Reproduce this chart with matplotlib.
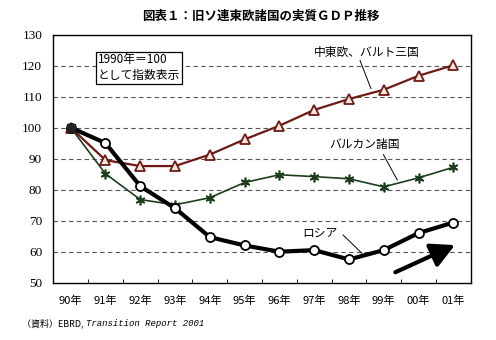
import matplotlib.pyplot as plt
from matplotlib.patches import FancyArrowPatch

plt.rcParams['font.family'] = ['Noto Sans CJK JP', 'DejaVu Sans']

years = ['90年', '91年', '92年', '93年', '94年', '95年', '96年', '97年', '98年', '99年', '00年', '01年']
cee_baltic = [100, 89.5, 87.6, 87.6, 91.3, 96.2, 100.6, 105.7, 109.2, 112.2, 116.7, 120.1]
balkans = [100, 85.1, 76.8, 75.1, 77.4, 82.3, 84.8, 84.2, 83.5, 80.9, 83.8, 87.2]
russia = [100, 95.0, 81.1, 74.0, 64.7, 62.0, 60.0, 60.5, 57.5, 60.5, 66.0, 69.4]
y_ticks = [50, 60, 70, 80, 90, 100, 110, 120, 130]

x = list(range(len(years)))

fig = plt.figure(figsize=(4.96, 3.40), dpi=100)
ax = fig.add_axes([0.1075, 0.1685, 0.8415, 0.730])

for v in y_ticks[1:-1]:
    ax.axhline(v, color='#555555', lw=0.8, ls=(0, (4, 3)), zorder=1)

ax.plot(x, balkans, color='#1c3d1c', lw=1.2, marker=(6, 2, 0), ms=7,
        mec='#1c3d1c', mew=1.2, zorder=3)
ax.plot(x, cee_baltic, color='#6e1a14', lw=1.6, marker='^', ms=6.5,
        mfc='#f4e6dc', mec='#6e1a14', mew=1.3, zorder=4)
ax.plot(x, russia, color='black', lw=3.0, marker='o', ms=6.5,
        mfc='white', mec='black', mew=1.3, zorder=5)
# base year point (all series = 100)
ax.plot(x[0], russia[0], marker='s', ms=6, color='#222222', zorder=6)

ax.set_xlim(-0.5, len(years) - 0.5)
ax.set_ylim(y_ticks[0], y_ticks[-1])
ax.set_yticks(y_ticks)
ax.set_yticklabels([str(v) for v in y_ticks], family='Liberation Serif', fontsize=9.5)
ax.set_xticks(x)
ax.set_xticklabels(years, fontsize=8)
ax.set_xticks([i + 0.5 for i in x[:-1]], minor=True)
ax.tick_params(axis='x', which='major', length=0, pad=9)
ax.tick_params(axis='x', which='minor', direction='in', length=3, width=0.6)
ax.tick_params(axis='y', length=0, pad=8)
for s in ax.spines.values():
    s.set_linewidth(1.0)

# text box
ax.text(0.78, 123.9, '1990年＝100\nとして指数表示', fontsize=8.5, va='top', ha='left',
        linespacing=1.3,
        bbox=dict(boxstyle='square,pad=0.12', fc='white', ec='black', lw=0.9))

# series labels
ax.text(8.5, 124.3, '中東欧、バルト三国', fontsize=8.5, ha='center', va='center')
ax.plot([8.32, 8.63], [121.6, 112.6], color='black', lw=0.7)
ax.text(8.46, 94.4, 'バルカン諸国', fontsize=8.5, ha='center', va='center')
ax.plot([8.99, 9.39], [91.3, 83.1], color='black', lw=0.7)
ax.text(7.17, 65.9, 'ロシア', fontsize=8.5, ha='center', va='center')
ax.plot([7.83, 8.37], [65.4, 59.5], color='black', lw=0.7)

# upward arrow
ax.add_patch(FancyArrowPatch((9.26, 53.0), (11.12, 62.5),
                             arrowstyle='-|>,head_length=6.5,head_width=3.4',
                             mutation_scale=2.2, color='black', lw=3.0, zorder=7))

fig.text(0.525, 0.952, '図表１：旧ソ連東欧諸国の実質ＧＤＰ推移', fontsize=9, weight='bold',
         ha='center', va='center')

src = fig.text(0.045, 0.05, '（資料）EBRD, ', fontsize=6.5, ha='left', va='center',
               family=['Noto Sans CJK JP', 'DejaVu Sans'])
ax.annotate('Transition Report 2001', xy=(1, 0.5), xycoords=src, va='center', ha='left',
            fontsize=6.5, style='italic', family='Liberation Mono', annotation_clip=False)

fig.savefig('out.png', dpi=100)
